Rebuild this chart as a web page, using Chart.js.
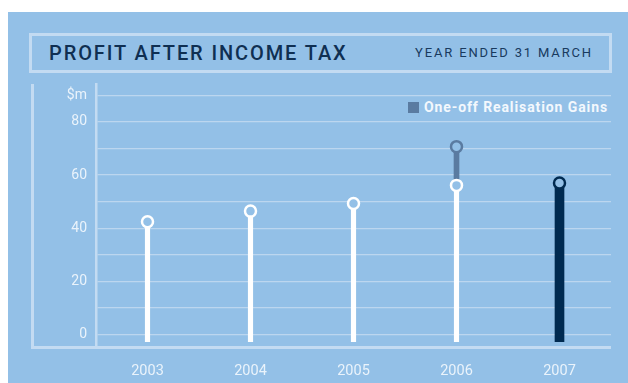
<!DOCTYPE html>
<html lang="en">
<head>
  <meta charset="UTF-8">
  <title>Profit After Income Tax</title>
  <script src="https://cdn.jsdelivr.net/npm/chart.js"></script>
  <style>
    html, body { margin: 0; padding: 0; background: #fff; }
    body { width: 628px; height: 383px; position: relative; overflow: hidden; font-family: Roboto, "Noto Sans", sans-serif; }
    .panel { position: absolute; left: 8px; top: 12px; width: 620px; height: 371px; background: #93c0e7; }
    .titlebox { position: absolute; left: 29px; top: 33px; width: 583px; height: 40px; box-sizing: border-box; border: 3px solid #c3dbf2; }
    .title { position: absolute; left: 49px; top: 41px; font-size: 20px; font-weight: 500; letter-spacing: 1.9px; color: #0f2f52; }
    .subtitle { position: absolute; right: 35px; top: 45px; font-size: 13px; letter-spacing: 1.85px; color: #183a5e; }
    .frame { position: absolute; left: 31px; top: 84px; width: 577px; height: 262px; border-left: 3px solid #c3dbf2; border-bottom: 3px solid #c3dbf2; }
    .legend { position: absolute; right: 20px; top: 99px; font-size: 14px; font-weight: 700; letter-spacing: 0.9px; color: #f3f8fd; }
    .legend i { display: inline-block; width: 11px; height: 11px; background: #5a7ba1; margin-right: 5px; vertical-align: -1px; }
    canvas { position: absolute; left: 0; top: 0; }
  </style>
</head>
<body>
  <div class="panel"></div>
  <div class="titlebox"></div>
  <div class="title">PROFIT AFTER INCOME TAX</div>
  <div class="subtitle">YEAR ENDED 31 MARCH</div>
  <div class="frame"></div>
  <div class="legend"><i></i>One-off Realisation Gains</div>
  <canvas id="profitChart" width="628" height="383"></canvas>

  <script>
    // $m, year ended 31 March
    const years = ['2003', '2004', '2005', '2006', '2007'];
    const profit = [42.4, 46.4, 49.3, 56.1, 57.0];
    const withGains = [null, null, null, 70.7, null];   // 2006 incl. one-off realisation gains
    const yTicks = [0, 10, 20, 30, 40, 50, 60, 70, 80, 90];

    const bg = '#93c0e7';
    const navy = '#002a50';
    const gainBlue = '#5a7ba1';
    const stemBase = -2.8;

    const current = years.length - 1;
    const pastStems = profit.map((v, i) => i === current ? null : [stemBase, v]);
    const lastStem = profit.map((v, i) => i === current ? [stemBase, v] : null);
    const gainStems = withGains.map((v, i) => v === null ? null : [profit[i], v]);

    new Chart(document.getElementById('profitChart'), {
      type: 'bar',
      data: {
        labels: years,
        datasets: [
          { type: 'line', data: profit, showLine: false, order: 0,
            pointRadius: 5.5, pointHoverRadius: 5.5, pointBorderWidth: 2.5,
            pointBackgroundColor: bg,
            pointBorderColor: profit.map((v, i) => i === current ? navy : '#ffffff') },
          { type: 'line', data: withGains, showLine: false, order: 0,
            pointRadius: 5.5, pointHoverRadius: 5.5, pointBorderWidth: 2.5,
            pointBackgroundColor: bg, pointBorderColor: gainBlue },
          { data: pastStems, backgroundColor: '#ffffff', barThickness: 4.5, grouped: false, order: 1 },
          { data: lastStem, backgroundColor: navy, barThickness: 9, grouped: false, order: 1 },
          { data: gainStems, backgroundColor: gainBlue, barThickness: 5, grouped: false, order: 1 }
        ]
      },
      options: {
        responsive: false,
        animation: false,
        layout: { padding: { left: 0, right: 17, top: 84, bottom: 0 } },
        plugins: { legend: { display: false }, tooltip: { enabled: false } },
        scales: {
          x: {
            offset: true,
            grid: { display: false },
            border: { display: false },
            ticks: { color: '#eaf3fb', font: { family: 'Roboto', size: 14.5 }, padding: 8 },
            afterFit: s => { s.height = 36; }
          },
          y: {
            min: -4.8,
            max: 94.3,
            afterBuildTicks: s => { s.ticks = yTicks.map(v => ({ value: v })); },
            grid: { color: '#bcd6ef', lineWidth: 1.2, drawTicks: false },
            border: { display: true, color: '#c3dbf2', width: 2.5 },
            ticks: {
              color: '#eaf3fb',
              font: { family: 'Roboto', size: 14 },
              padding: 9,
              callback: v => v === 90 ? '$m' : (v % 20 === 0 ? v : '')
            },
            afterFit: s => { s.width = 96; }
          }
        }
      }
    });
  </script>
</body>
</html>
